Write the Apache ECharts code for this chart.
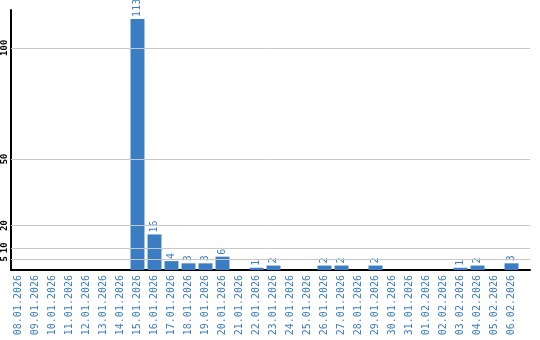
<!DOCTYPE html>
<html><head><meta charset="utf-8">
<script src="https://cdn.jsdelivr.net/npm/echarts@6/dist/echarts.min.js"></script>
<style>html,body{margin:0;padding:0;background:#fff}#c{width:540px;height:340px}</style>
</head><body><div id="c"></div>
<script>
const categories = ['08.01.2026','09.01.2026','10.01.2026','11.01.2026','12.01.2026','13.01.2026','14.01.2026','15.01.2026','16.01.2026','17.01.2026','18.01.2026','19.01.2026','20.01.2026','21.01.2026','22.01.2026','23.01.2026','24.01.2026','25.01.2026','26.01.2026','27.01.2026','28.01.2026','29.01.2026','30.01.2026','31.01.2026','01.02.2026','02.02.2026','03.02.2026','04.02.2026','05.02.2026','06.02.2026'];
const counts = [0,0,0,0,0,0,0,113,16,4,3,3,6,0,1,2,0,0,2,2,0,2,0,0,0,0,1,2,0,3];
const yTicks = [5,10,20,50,100];
const yMax = 117;

const blue = '#3a7dc2';
const font = '"DejaVu Sans Mono", monospace';
const chart = echarts.init(document.getElementById('c'));
chart.setOption({
  animation: false,
  grid: [
    {left: 10, top: 10, width: 520, height: 260},
    {left: 10, top: 10, width: 510, height: 260}
  ],
  xAxis: [
    {gridIndex: 0, type: 'value', min: 0, max: 1, show: true,
     axisLine: {show: true, lineStyle: {color: '#000', width: 2}},
     axisTick: {show: false}, axisLabel: {show: false}, splitLine: {show: false}},
    {gridIndex: 1, type: 'category', data: categories,
     axisLine: {show: false}, axisTick: {show: false},
     axisLabel: {rotate: 90, interval: 0, color: blue, fontFamily: font, fontSize: 10, margin: 5}}
  ],
  yAxis: [
    {gridIndex: 0, type: 'value', min: 0, max: yMax,
     axisLine: {show: true, lineStyle: {color: '#000', width: 2}},
     axisTick: {show: false}, splitLine: {show: false},
     axisLabel: {customValues: yTicks, rotate: 90, color: '#000', fontFamily: font, fontSize: 9, fontWeight: 'bold', margin: 2}},
    {gridIndex: 1, type: 'value', min: 0, max: yMax, show: false, splitLine: {show: false}}
  ],
  series: [
    {type: 'line', xAxisIndex: 0, yAxisIndex: 0, data: [], silent: true,
     markLine: {silent: true, symbol: 'none', label: {show: false},
       lineStyle: {color: '#c8c8c8', type: 'solid', width: 1},
       data: yTicks.map(v => ({yAxis: v}))}},
    {type: 'bar', xAxisIndex: 1, yAxisIndex: 1, data: counts, barCategoryGap: '18%',
     itemStyle: {color: blue},
     label: {show: true, position: 'top', rotate: 90, align: 'left', verticalAlign: 'middle', distance: 2,
       color: blue, fontFamily: font, fontSize: 10,
       formatter: p => p.value ? String(p.value) : ''}}
  ]
});
</script></body></html>
